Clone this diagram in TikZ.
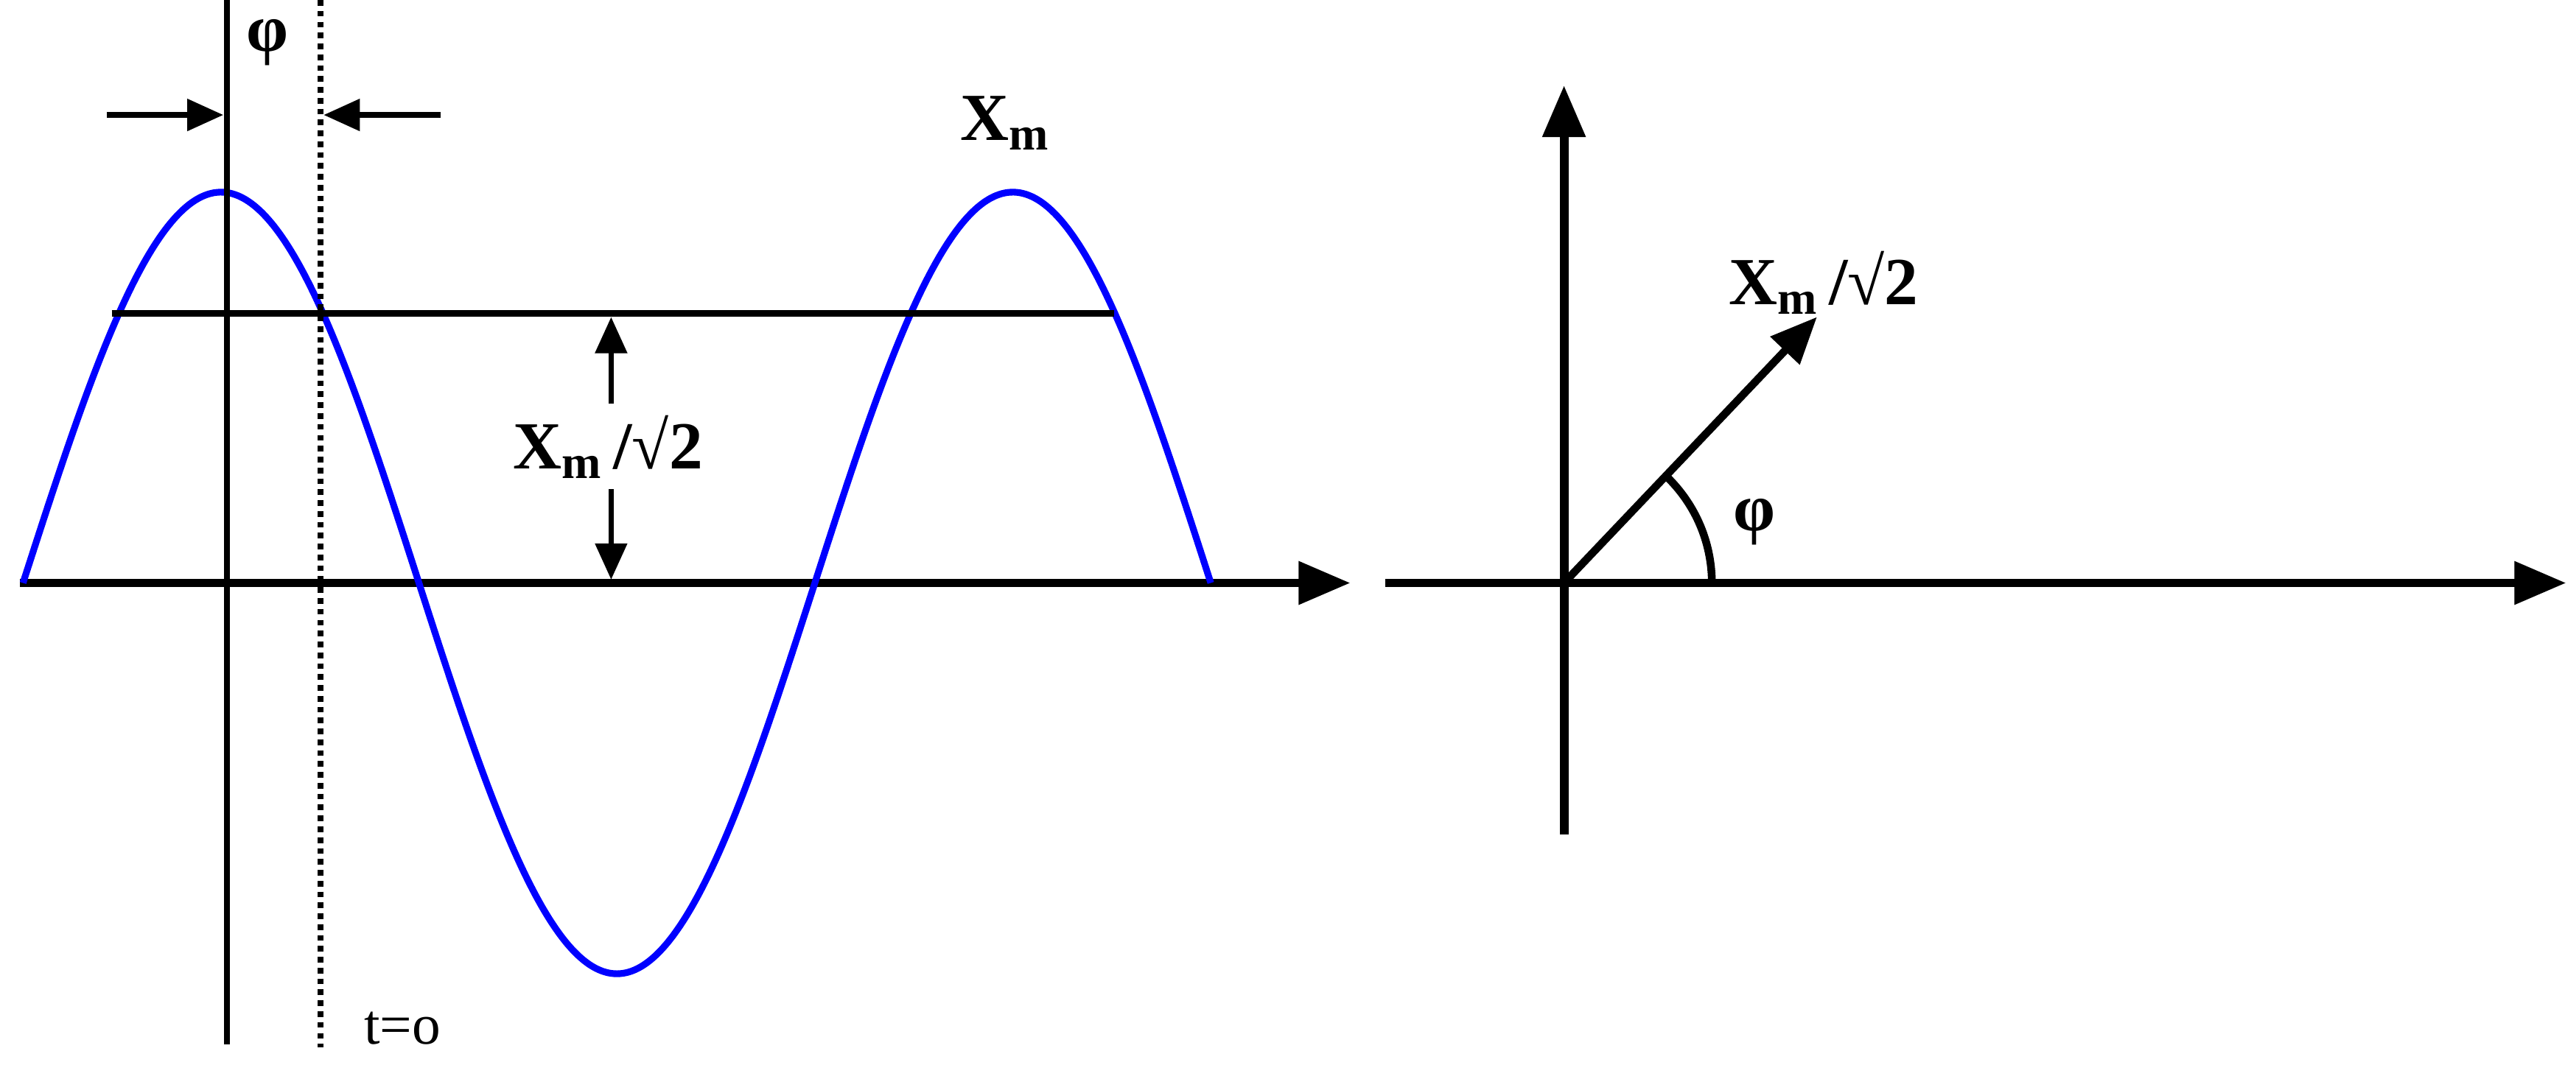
\documentclass[tikz,border=0pt]{standalone}
\usepackage{fontspec}
\setmainfont{Liberation Serif}
\usetikzlibrary{arrows.meta}
\begin{document}
\begin{tikzpicture}[x=0.0223cm,y=-0.0223cm,
  thick axis/.style={line width=3.4pt,-{Triangle[length=20pt,width=16pt]}},
  thin arr/.style={line width=2.2pt,-{Triangle[length=14pt,width=12pt]}},
  lbl/.style={font=\fontsize{26}{30}\selectfont\bfseries},
  sine/.style={blue,line width=2.6pt}]
\useasboundingbox (0,0) rectangle (1568,657);
% left
\coordinate (a0) at (12,355); \coordinate (a1) at (822,355);
\draw[thick axis] (a0) -- (a1);
\draw[sine] plot[domain=14:737,samples=200,smooth] (\x,{355-238*sin(((\x-14)/482)*360)});
\coordinate (h0) at (68,191); \coordinate (h1) at (678,191);
\draw[line width=2.6pt] (h0) -- (h1);
\coordinate (v0) at (138,0); \coordinate (v1) at (138,636);
\draw[line width=2.2pt] (v0) -- (v1);
\coordinate (d0) at (195,0); \coordinate (d1) at (195,638);
\draw[line width=2.2pt,dotted] (d0) -- (d1);
\node[font=\fontsize{22}{26}\selectfont,anchor=west] (t0) at (216,626) {t=o};
\node[lbl] (phi1) at (163,26) {φ};
\coordinate (p1) at (65,70); \coordinate (p2) at (136,70);
\coordinate (q1) at (268,70); \coordinate (q2) at (197,70);
\draw[thin arr] (p1) -- (p2);
\draw[thin arr] (q1) -- (q2);
\node[lbl] (amp) at (370,272) {X\textsubscript{m}\,/√2};
\coordinate (u0) at (372,246); \coordinate (u1) at (372,193);
\coordinate (w0) at (372,298); \coordinate (w1) at (372,353);
\draw[thin arr] (u0) -- (u1);
\draw[thin arr] (w0) -- (w1);
\node[lbl] (xm) at (612,75) {X\textsubscript{m}};
% right
\coordinate (o) at (952,355);
\coordinate (r0) at (843,355); \coordinate (r1) at (1562,355);
\coordinate (y0) at (952,508); \coordinate (y1) at (952,52);
\draw[thick axis] (r0) -- (r1);
\draw[thick axis] (y0) -- (y1);
\coordinate (vec) at (1106,193);
\draw[line width=3pt,-{Triangle[length=18pt,width=15pt]}] (o) -- (vec);
\node[lbl] (vl) at (1110,172) {X\textsubscript{m}\,/√2};
\draw[line width=3pt] (1042,355) arc[start angle=0,end angle=-46,radius=90];
\node[lbl] (phi2) at (1068,318) {φ};
\end{tikzpicture}
\end{document}
